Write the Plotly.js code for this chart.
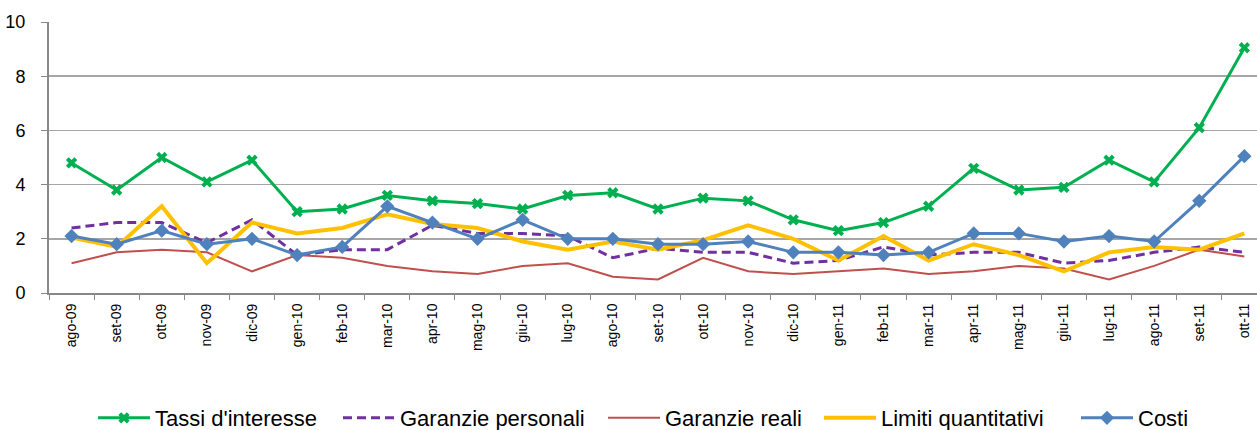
<!DOCTYPE html>
<html>
<head>
<meta charset="utf-8">
<script src="https://cdn.plot.ly/plotly-3.0.1.min.js"></script>
<style>html,body{margin:0;padding:0;background:#fff;}#chart{width:1257px;height:430px;}</style>
</head>
<body>
<div id="chart"></div>
<script>
const months = ["ago-09","set-09","ott-09","nov-09","dic-09","gen-10","feb-10","mar-10","apr-10","mag-10","giu-10","lug-10","ago-10","set-10","ott-10","nov-10","dic-10","gen-11","feb-11","mar-11","apr-11","mag-11","giu-11","lug-11","ago-11","set-11","ott-11"];
const tassi = [4.8,3.8,5.0,4.1,4.9,3.0,3.1,3.6,3.4,3.3,3.1,3.6,3.7,3.1,3.5,3.4,2.7,2.3,2.6,3.2,4.6,3.8,3.9,4.9,4.1,6.1,9.05];
const garanziePersonali = [2.4,2.6,2.6,1.85,2.7,1.4,1.6,1.6,2.5,2.2,2.2,2.1,1.3,1.65,1.5,1.5,1.1,1.2,1.7,1.4,1.5,1.5,1.1,1.2,1.5,1.7,1.5];
const garanzieReali = [1.1,1.5,1.6,1.5,0.8,1.4,1.3,1.0,0.8,0.7,1.0,1.1,0.6,0.5,1.3,0.8,0.7,0.8,0.9,0.7,0.8,1.0,0.9,0.5,1.0,1.6,1.35];
const limiti = [2.05,1.7,3.2,1.1,2.6,2.2,2.4,2.9,2.55,2.4,1.9,1.6,1.9,1.6,1.95,2.5,2.0,1.2,2.1,1.2,1.8,1.4,0.8,1.5,1.7,1.6,2.2];
const costi = [2.1,1.8,2.3,1.8,2.0,1.4,1.7,3.2,2.6,2.0,2.7,2.0,2.0,1.8,1.8,1.9,1.5,1.5,1.4,1.5,2.2,2.2,1.9,2.1,1.9,3.4,5.05];

const traces = [
  {name:"Tassi d'interesse", y:tassi, line:{color:"#00B050",width:3}, mode:"lines+markers",
   marker:{symbol:"x",size:10,color:"#00B050"}, legend:"legend"},
  {name:"Garanzie personali", y:garanziePersonali, line:{color:"#7030A0",width:3,dash:"9px,5px"}, mode:"lines", legend:"legend2"},
  {name:"Garanzie reali", y:garanzieReali, line:{color:"#C0504D",width:2}, mode:"lines", legend:"legend3"},
  {name:"Limiti quantitativi", y:limiti, line:{color:"#FFC000",width:4}, mode:"lines", legend:"legend4"},
  {name:"Costi", y:costi, line:{color:"#4F81BD",width:3}, mode:"lines+markers",
   marker:{symbol:"diamond",size:11,color:"#4F81BD"}, legend:"legend5"}
].map(t => Object.assign({type:"scatter", x:months}, t));

const legendStarts = [97, 342, 607, 823, 1080];
function mkLegend(px) {
  return {orientation:"h", xref:"container", yref:"container", x:(px - 4)/1257, xanchor:"left",
          y:(430-418)/430, yanchor:"middle", bgcolor:"rgba(0,0,0,0)",
          font:{size:22, family:"Liberation Sans, Arial, sans-serif", color:"#000"}, itemwidth:52};
}

const layout = {
  width:1257, height:430,
  margin:{l:49, r:0, t:22, b:137},
  paper_bgcolor:"#fff", plot_bgcolor:"#fff",
  font:{family:"Liberation Sans, Arial, sans-serif", color:"#000"},
  showlegend:true,
  legend:mkLegend(legendStarts[0]),
  legend2:mkLegend(legendStarts[1]),
  legend3:mkLegend(legendStarts[2]),
  legend4:mkLegend(legendStarts[3]),
  legend5:mkLegend(legendStarts[4]),
  xaxis:{type:"category", range:[-0.5,26.28], tickangle:-90, tickfont:{size:14},
         showline:true, linecolor:"#888", linewidth:2, ticks:"outside", tickson:"boundaries",
         ticklen:5, tickcolor:"#888", ticklabelstandoff:3, showgrid:false, zeroline:false, fixedrange:true},
  yaxis:{range:[0,10], dtick:2, tickfont:{size:18}, showgrid:true, gridcolor:"#A6A6A6", gridwidth:1.5,
         showline:true, linecolor:"#888", linewidth:2, ticks:"outside", ticklen:6, tickcolor:"#888",
         ticklabelstandoff:12, zeroline:false, fixedrange:true}
};
Plotly.newPlot("chart", traces, layout, {displayModeBar:false, staticPlot:true});
</script>
</body>
</html>
